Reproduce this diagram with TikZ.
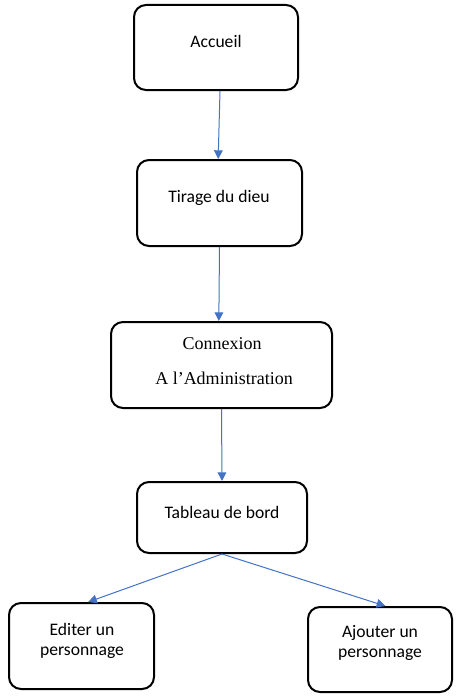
\documentclass[tikz,border=0pt]{standalone}
\usepackage{fontspec}
\setmainfont{Carlito}
\newfontfamily\timesfont{Liberation Serif}
\usetikzlibrary{arrows.meta}
\definecolor{arrowblue}{RGB}{68,114,196}
\begin{document}
\begin{tikzpicture}[x=0.75pt,y=-0.75pt,
  box/.style={draw=black,line width=1.5pt,rounded corners=9pt,inner sep=0pt,fill=white},
  txt/.style={anchor=base,inner sep=0pt,font=\fontsize{13.2}{15}\selectfont},
  ttxt/.style={anchor=base,inner sep=0pt,font=\timesfont\fontsize{13.5}{16}\selectfont},
  conn/.style={draw=arrowblue,line width=0.75pt,-{Triangle[length=6.5pt,width=6.5pt]}}]
\useasboundingbox (0,0) rectangle (472,699);
\fill[white] (0,0) rectangle (472,699);
\node[box,minimum width=123pt,minimum height=63.75pt] (b1) at (216,47.5) {};
\node[box,minimum width=123.75pt,minimum height=64.5pt] (b2) at (219.5,203) {};
\node[box,minimum width=165.75pt,minimum height=64.5pt] (b3) at (221.5,365) {};
\node[box,minimum width=127.5pt,minimum height=53.25pt] (b4) at (222,517.5) {};
\node[box,minimum width=108.75pt,minimum height=64.5pt] (b5) at (81.5,646) {};
\node[box,minimum width=108pt,minimum height=63.75pt] (b6) at (380,649.5) {};
\node[txt] (t1) at (216,47.7) {Accueil};
\node[txt] (t2) at (219,202.7) {Tirage du dieu};
\node[ttxt] (t3a) at (222,349) {Connexion};
\node[ttxt] (t3b) at (224,384) {A l’Administration};
\node[txt] (t4) at (222,518) {Tableau de bord};
\node[txt] (t5a) at (82,635.7) {Editer un};
\node[txt] (t5b) at (82,655.5) {personnage};
\node[txt] (t6a) at (380,637.7) {Ajouter un};
\node[txt] (t6b) at (380,657.5) {personnage};
\draw[conn] ([xshift=3pt]b1.south) -- ([xshift=-1pt]b2.north);
\draw[conn] (b2.south) -- ([xshift=-2pt]b3.north);
\draw[conn] (b3.south) -- (b4.north);
\draw[conn] (b4.south) -- ([xshift=5pt]b5.north);
\draw[conn] (b4.south) -- ([xshift=4pt]b6.north);
\end{tikzpicture}
\end{document}
